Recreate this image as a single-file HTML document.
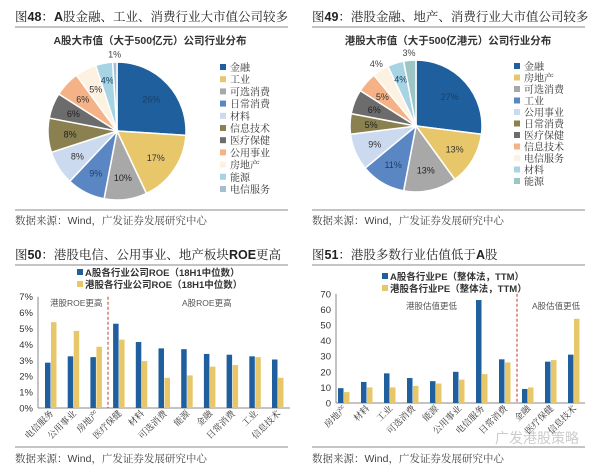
<!DOCTYPE html>
<html><head><meta charset="utf-8"><style>
html,body{margin:0;padding:0;background:#fff;}
svg{display:block;font-family:"Liberation Sans","Noto Sans CJK SC",sans-serif;}
</style></head><body>
<svg id="s" width="600" height="473" viewBox="0 0 600 473" xmlns="http://www.w3.org/2000/svg">
<rect width="600" height="473" fill="#fff"/>
<g font-family="'Liberation Serif','Noto Serif CJK SC',serif" font-size="12.5" fill="#222">
<text x="15" y="21">图<tspan font-weight="bold" font-family="Liberation Sans">48</tspan>：<tspan font-weight="bold" font-family="Liberation Sans">A</tspan>股金融、工业、消费行业大市值公司较多</text>
<text x="312" y="21">图<tspan font-weight="bold" font-family="Liberation Sans">49</tspan>：港股金融、地产、消费行业大市值公司较多</text>
<text x="15" y="259">图<tspan font-weight="bold" font-family="Liberation Sans">50</tspan>：港股电信、公用事业、地产板块<tspan font-weight="bold" font-family="Liberation Sans">ROE</tspan>更高</text>
<text x="312" y="259">图<tspan font-weight="bold" font-family="Liberation Sans">51</tspan>：港股多数行业估值低于<tspan font-weight="bold" font-family="Liberation Sans">A</tspan>股</text>
</g>
<g stroke="#888" stroke-width="1">
<line x1="15" y1="27" x2="288" y2="27"/><line x1="312" y1="27" x2="585" y2="27"/>
<line x1="15" y1="210" x2="288" y2="210"/><line x1="312" y1="210" x2="585" y2="210"/>
<line x1="15" y1="265" x2="288" y2="265"/><line x1="312" y1="265" x2="585" y2="265"/>
<line x1="15" y1="447" x2="288" y2="447"/><line x1="312" y1="447" x2="585" y2="447"/>
</g>
<g font-size="10.5" fill="#444" font-family="'Liberation Serif','Noto Serif CJK SC',serif">
<text x="15" y="224">数据来源：<tspan font-family="Liberation Sans">Wind</tspan>，广发证券发展研究中心</text>
<text x="312" y="224">数据来源：<tspan font-family="Liberation Sans">Wind</tspan>，广发证券发展研究中心</text>
<text x="15" y="462">数据来源：<tspan font-family="Liberation Sans">Wind</tspan>，广发证券发展研究中心</text>
<text x="312" y="462">数据来源：<tspan font-family="Liberation Sans">Wind</tspan>，广发证券发展研究中心</text>
</g>
<text x="150" y="44" text-anchor="middle" font-size="10.5" font-weight="bold" fill="#333">A股大市值（大于500亿元）公司行业分布</text>
<text x="448" y="44" text-anchor="middle" font-size="10.5" font-weight="bold" fill="#333">港股大市值（大于500亿港元）公司行业分布</text>
<text x="495" y="443" font-size="14" fill="#ccc">广发港股策略</text>
<g id="g"></g>
</svg>
<script>
var g=document.getElementById('g'),h='';
function pie(cx,cy,r,vals,cols,labs,lx,ly,step,lbls,lblcol){
 var a=-Math.PI/2;
 vals.forEach(function(v,i){
  var b=a+v/100*2*Math.PI;
  var x1=cx+r*Math.cos(a),y1=cy+r*Math.sin(a),x2=cx+r*Math.cos(b),y2=cy+r*Math.sin(b);
  h+='<path d="M'+cx+','+cy+' L'+x1+','+y1+' A'+r+','+r+' 0 '+(v>50?1:0)+' 1 '+x2+','+y2+' Z" fill="'+cols[i]+'" stroke="#fff" stroke-width="1.5"/>';
  var m=(a+b)/2,rr=v<=1?r+7:(v<=4&&i>=8?r*0.75:r*0.68);
  if(lblcol[i]=='out'){rr=r+8;}
  var tx=cx+rr*Math.cos(m),ty=cy+rr*Math.sin(m)+3.5;
  h+='<text x="'+tx+'" y="'+ty+'" text-anchor="middle" font-size="9" fill="'+(lblcol[i]=='out'?'#444':lblcol[i])+'">'+v+'%</text>';
  a=b;
 });
 labs.forEach(function(t,i){
  var y=ly+i*step;
  h+='<rect x="'+lx+'" y="'+(y-6)+'" width="6" height="6" fill="'+cols[i]+'"/>';
  h+='<text x="'+(lx+10)+'" y="'+(y+1)+'" font-size="10" fill="#333" font-family="\'Noto Serif CJK SC\',serif">'+t+'</text>';
 });
}
var c1=['#1f5f9e','#e8c76a','#a8a8a8','#5a86c4','#cbdaee','#8a8050','#6c6c6c','#f4b286','#fdf2e2','#a7d4e2','#a5bcd1'];
pie(117,131,69,[26,17,10,9,8,8,6,6,5,4,1],c1,['金融','工业','可选消费','日常消费','材料','信息技术','医疗保健','公用事业','房地产','能源','电信服务'],220,70,12.2,0,
['#1b3f66','#333','#222','#1b3f66','#333','#222','#222','#333','#333','#1b3f66','out']);
var c2=['#1f5f9e','#e8c76a','#a8a8a8','#5a86c4','#cbdaee','#8a8050','#6c6c6c','#f4b286','#fdf2e2','#a7d4e2','#9cc5c6'];
pie(416,126,66,[27,13,13,11,9,5,6,5,4,4,3],c2,['金融','房地产','可选消费','工业','公用事业','日常消费','医疗保健','信息技术','电信服务','材料','能源'],514,69,11.5,0,
['#1b3f66','#333','#222','#1b3f66','#333','#222','#222','#333','out','#1b3f66','out']);
function bars(o){
 var i;
 for(i=0;i<=o.n;i++){var y=o.y0-i*o.pu;h+='<text x="'+o.lx+'" y="'+(y+3.5)+'" text-anchor="end" font-size="9.5" fill="#333">'+o.fmt(i)+'</text>';}
 h+='<line x1="'+o.ax+'" y1="'+(o.y0-o.n*o.pu)+'" x2="'+o.ax+'" y2="'+o.y0+'" stroke="#888"/>';
 h+='<line x1="'+o.ax+'" y1="'+o.y0+'" x2="'+o.ex+'" y2="'+o.y0+'" stroke="#888"/>';
 o.A.forEach(function(v,i){
  var x=o.x0+i*o.st;
  h+='<rect x="'+x+'" y="'+(o.y0-v*o.k)+'" width="5.5" height="'+(v*o.k)+'" fill="#1f5f9e"/>';
  h+='<rect x="'+(x+6)+'" y="'+(o.y0-o.H[i]*o.k)+'" width="5.5" height="'+(o.H[i]*o.k)+'" fill="#e8c76a"/>';
  var cx=x+9,cy=o.y0+6;
  h+='<text x="'+cx+'" y="'+cy+'" text-anchor="end" font-size="9" fill="#333" font-family="\'Noto Serif CJK SC\',serif" transform="rotate(-45 '+cx+' '+cy+')">'+o.c[i]+'</text>';
 });
 h+='<line x1="'+o.dx+'" y1="'+(o.y0-o.n*o.pu)+'" x2="'+o.dx+'" y2="'+o.y0+'" stroke="#c0392b" stroke-dasharray="3,2"/>';
}
bars({n:7,y0:408,pu:15.9,k:15.9,lx:33,ax:38,ex:290,x0:45,st:22.7,dx:108,fmt:function(i){return i+'%'},
 A:[2.85,3.25,3.2,5.3,4.15,3.75,3.7,3.4,3.35,3.25,3.05],H:[5.4,4.85,3.85,4.3,2.95,1.9,2.05,2.6,2.7,3.2,1.9],
 c:['电信服务','公用事业','房地产','医疗保健','材料','可选消费','能源','金融','日常消费','工业','信息技术']});
bars({n:7,y0:403,pu:15.6,k:1.56,lx:331,ax:336,ex:585,x0:338,st:23,dx:517,fmt:function(i){return i*10},
 A:[9.5,13.5,19,16,14,20,66,28,9,26.5,31],H:[7,10,10,11,12.5,15,18.5,26,10,27.5,54],
 c:['房地产','材料','工业','可选消费','能源','公用事业','电信服务','日常消费','金融','医疗保健','信息技术']});
h+='<rect x="77" y="269" width="6" height="6" fill="#1f5f9e"/><text x="85" y="276" font-size="9.5" font-weight="bold" fill="#333">A股各行业公司ROE（18H1中位数）</text>';
h+='<rect x="77" y="281" width="6" height="6" fill="#e8c76a"/><text x="85" y="288" font-size="9.5" font-weight="bold" fill="#333">港股各行业公司ROE（18H1中位数）</text>';
h+='<text x="50" y="306" font-size="8.5" fill="#555">港股ROE更高</text><text x="182" y="306" font-size="8.5" fill="#555">A股ROE更高</text>';
h+='<rect x="382" y="273" width="6" height="6" fill="#1f5f9e"/><text x="390" y="280" font-size="9.5" font-weight="bold" fill="#333">A股各行业PE（整体法，TTM）</text>';
h+='<rect x="382" y="285" width="6" height="6" fill="#e8c76a"/><text x="390" y="292" font-size="9.5" font-weight="bold" fill="#333">港股各行业PE（整体法，TTM）</text>';
h+='<text x="406" y="309" font-size="8.5" fill="#555">港股估值更低</text><text x="532" y="309" font-size="8.5" fill="#555">A股估值更低</text>';
g.innerHTML=h;
</script>
</body></html>
